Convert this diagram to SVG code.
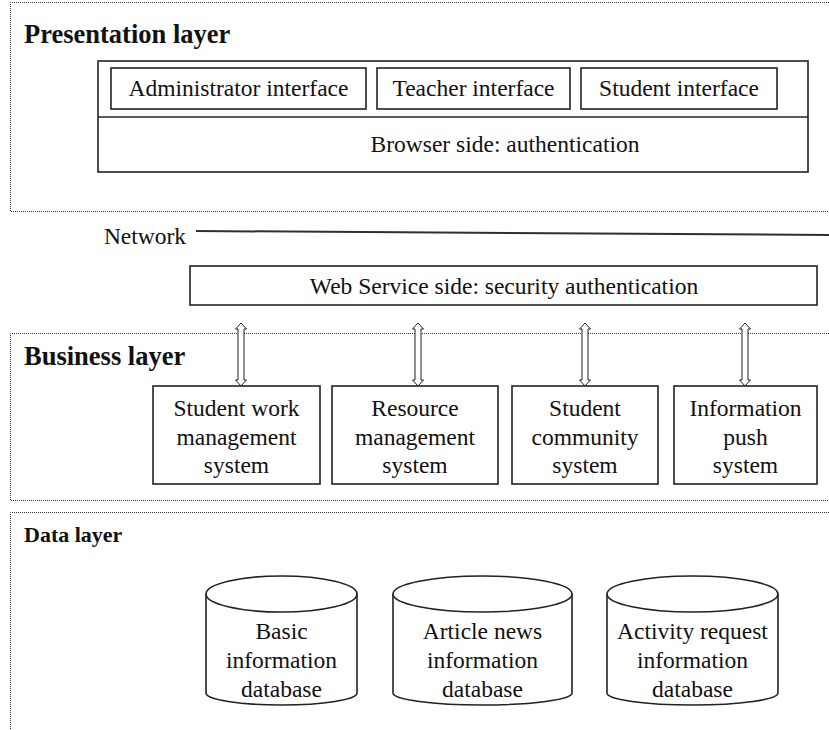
<svg xmlns="http://www.w3.org/2000/svg" width="829" height="730" viewBox="0 0 829 730">
<style>
.layer{fill:none;stroke:#333;stroke-width:1;stroke-dasharray:1 1}
.box{fill:#fff;stroke:#222;stroke-width:1.6}
.t{font-family:"Liberation Serif","Times New Roman",serif;font-size:23.5px;fill:#111;text-anchor:middle}
.h{font-family:"Liberation Serif","Times New Roman",serif;font-weight:bold;fill:#111}
.arr{fill:#fff;stroke:#222;stroke-width:1}
.db{fill:#fff;stroke:#222;stroke-width:1.6}
</style>
<rect width="829" height="730" fill="#fff"/>

<g id="presentation-layer">
<path class="layer" d="M835,2.5 H10.5 V211.5 H835"/>
<text class="h" x="24" y="43" font-size="26.5">Presentation layer</text>
</g>
<g id="presentation-box">
<rect class="box" x="98" y="61" width="710" height="111"/>
<line x1="98" y1="117" x2="808" y2="117" stroke="#222" stroke-width="1.6"/>
<text class="t" x="505" y="152">Browser side: authentication</text>
</g>
<g id="admin-interface">
<rect class="box" x="111" y="68" width="255" height="41"/>
<text class="t" x="238.5" y="96">Administrator interface</text>
</g>
<g id="teacher-interface">
<rect class="box" x="377" y="68" width="193" height="41"/>
<text class="t" x="473.5" y="96">Teacher interface</text>
</g>
<g id="student-interface">
<rect class="box" x="581" y="68" width="196" height="41"/>
<text class="t" x="679" y="96">Student interface</text>
</g>

<g id="network">
<text class="t" x="145" y="244">Network</text>
<line x1="196" y1="231" x2="829" y2="235" stroke="#2b2e3c" stroke-width="2"/>
</g>

<g id="web-service">
<rect class="box" x="190" y="266" width="627" height="39"/>
<text class="t" x="504" y="294">Web Service side: security authentication</text>
</g>

<g id="business-layer">
<path class="layer" d="M835,333.5 H10.5 V500.5 H835"/>
<text class="h" x="24" y="365" font-size="26.5">Business layer</text>
</g>

<g id="connectors">
<polygon class="arr" points="241,323 246.5,329 244,329 244,380 246.5,380 241,386 235.5,380 238,380 238,329 235.5,329"/>
<polygon class="arr" points="418,323 423.5,329 421,329 421,380 423.5,380 418,386 412.5,380 415,380 415,329 412.5,329"/>
<polygon class="arr" points="585,323 590.5,329 588,329 588,380 590.5,380 585,386 579.5,380 582,380 582,329 579.5,329"/>
<polygon class="arr" points="745,323 750.5,329 748,329 748,380 750.5,380 745,386 739.5,380 742,380 742,329 739.5,329"/>
</g>

<g id="student-work">
<rect class="box" x="153" y="386" width="167" height="98"/>
<text class="t" x="236.5" y="416">Student work</text>
<text class="t" x="236.5" y="445">management</text>
<text class="t" x="236.5" y="473">system</text>
</g>
<g id="resource-management">
<rect class="box" x="332" y="386" width="166" height="98"/>
<text class="t" x="415" y="416">Resource</text>
<text class="t" x="415" y="445">management</text>
<text class="t" x="415" y="473">system</text>
</g>
<g id="student-community">
<rect class="box" x="512" y="386" width="146" height="98"/>
<text class="t" x="585" y="416">Student</text>
<text class="t" x="585" y="445">community</text>
<text class="t" x="585" y="473">system</text>
</g>
<g id="information-push">
<rect class="box" x="674" y="386" width="143" height="98"/>
<text class="t" x="745.5" y="416">Information</text>
<text class="t" x="745.5" y="445">push</text>
<text class="t" x="745.5" y="473">system</text>
</g>

<g id="data-layer">
<path class="layer" d="M835,512.5 H10.5 V735"/>
<text class="h" x="24" y="542" font-size="22">Data layer</text>
</g>

<g id="basic-db">
<path class="db" d="M206,594 V693 A75.5,12 0 0 0 357,693 V594"/>
<ellipse class="db" cx="281.5" cy="594" rx="75.5" ry="18"/>
<text class="t" x="281.5" y="639">Basic</text>
<text class="t" x="281.5" y="668">information</text>
<text class="t" x="281.5" y="697">database</text>
</g>
<g id="article-db">
<path class="db" d="M393,594 V693 A89.5,12 0 0 0 572,693 V594"/>
<ellipse class="db" cx="482.5" cy="594" rx="89.5" ry="18"/>
<text class="t" x="482.5" y="639">Article news</text>
<text class="t" x="482.5" y="668">information</text>
<text class="t" x="482.5" y="697">database</text>
</g>
<g id="activity-db">
<path class="db" d="M607,594 V693 A85.5,12 0 0 0 778,693 V594"/>
<ellipse class="db" cx="692.5" cy="594" rx="85.5" ry="18"/>
<text class="t" x="692.5" y="639">Activity request</text>
<text class="t" x="692.5" y="668">information</text>
<text class="t" x="692.5" y="697">database</text>
</g>
</svg>
